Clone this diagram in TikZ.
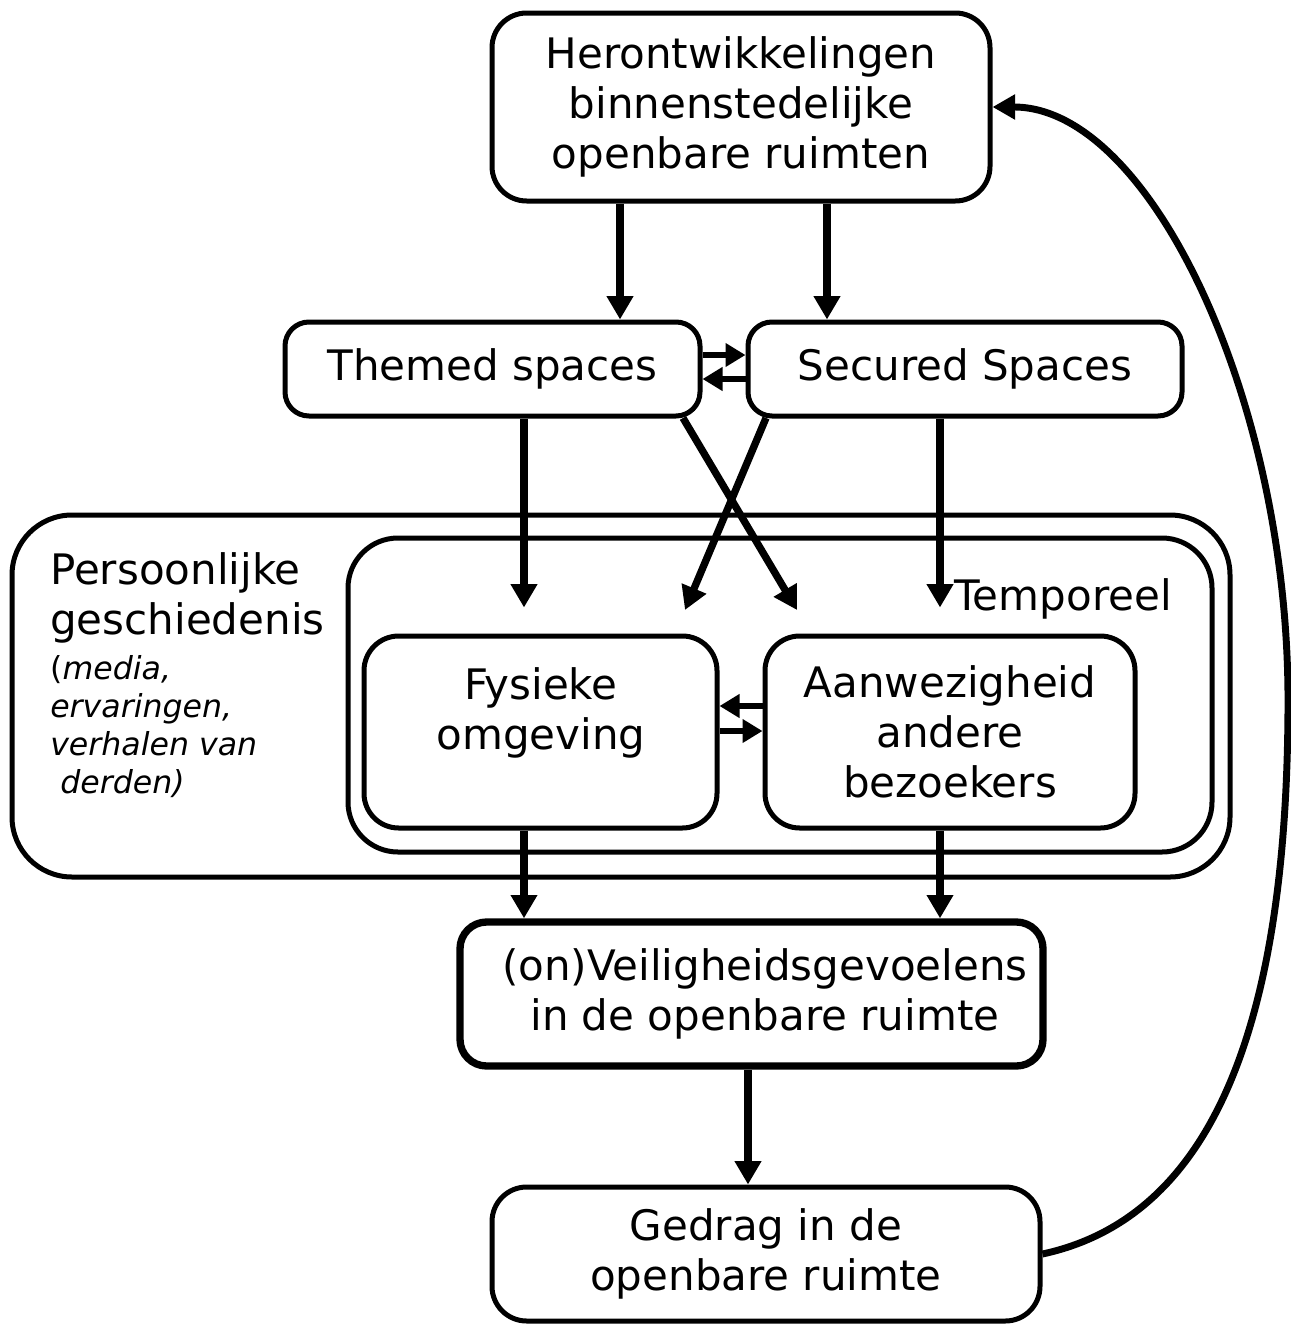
\documentclass[tikz,border=0pt]{standalone}
\usepackage{fontspec}
\setmainfont{DejaVu Sans}
\usetikzlibrary{arrows.meta}
\newcommand\mainfs{\fontsize{31.5}{37.5}\selectfont}
\newcommand\smallfs{\fontsize{23.7}{28.5}\selectfont}
\begin{document}
\begin{tikzpicture}[x=0.75pt,y=-0.75pt,
  box/.style={draw, line width=3.75pt, rounded corners=26pt, align=center, font=\mainfs, inner sep=0pt},
  arr/.style={line width=5.5pt, -{Triangle[width=19pt,length=17.5pt]}},
  sarr/.style={line width=4.5pt, -{Triangle[width=17pt,length=15pt]}},
  plain/.style={font=\mainfs, align=center, inner sep=0pt}]
\useasboundingbox (0,0) rectangle (1291,1328);

% containers
\node[box, rounded corners=45pt, minimum width=913.5pt, minimum height=271.5pt] (pers) at (621,696) {};
\node[box, rounded corners=37.5pt, minimum width=648pt, minimum height=235.5pt] (temp) at (780,695) {};

% boxes
\node[box, minimum width=373.5pt, minimum height=141pt] (top) at (741,107)
  {Herontwikkelingen\\binnenstedelijke\\openbare ruimten};
\node[box, rounded corners=18pt, minimum width=311.25pt, minimum height=70.5pt] (them) at (492.5,369) {Themed spaces};
\node[box, rounded corners=18pt, minimum width=325.5pt, minimum height=70.5pt] (sec) at (965,369) {Secured Spaces};
\node[box, minimum width=264.75pt, minimum height=144pt] (fys) at (540.5,732) {};
\node[plain] (fyst) at (541,713) {Fysieke\\omgeving};
\node[box, minimum width=277.5pt, minimum height=144pt] (aanw) at (950,732) {Aanwezigheid\\andere\\bezoekers};
\node[box, line width=5.5pt, rounded corners=20pt, minimum width=437.25pt, minimum height=108pt] (veil) at (751.5,994)
  {\hspace*{20pt}(on)Veiligheidsgevoelens\\\hspace*{20pt}in de openbare ruimte};
\node[box, minimum width=411pt, minimum height=100.5pt] (ged) at (766,1254) {Gedrag in de\\openbare ruimte};

% labels
\node[plain, anchor=base] (templ) at (1063,610) {Temporeel};
\node[plain, anchor=north west, align=left] (perst) at (50,552) {Persoonlijke\\geschiedenis};
\node[font=\smallfs, anchor=north west, align=left, inner sep=0pt] (perss) at (50,655)
  {(\textit{media,}\\\textit{ervaringen,}\\\textit{verhalen van}\\\textit{\ derden)}};

% x positions
\coordinate (xa) at (620,0);
\coordinate (xb) at (827,0);
\coordinate (xc) at (524,0);
\coordinate (xd) at (940,0);
\coordinate (xe) at (748,0);
\coordinate (ya) at (0,355);
\coordinate (yb) at (0,379);
\coordinate (yc) at (0,706);
\coordinate (yd) at (0,731);
\coordinate (d1s) at (683,418);
\coordinate (d1e) at (797,610);
\coordinate (d2s) at (766,418);
\coordinate (d2e) at (685,610);

\draw[arr] (top.south -| xa) -- (them.north -| xa);
\draw[arr] (top.south -| xb) -- (sec.north -| xb);
\draw[sarr] (them.east |- ya) -- (sec.west |- ya);
\draw[sarr] (sec.west |- yb) -- (them.east |- yb);
\draw[arr, shorten >=19.5pt] (them.south -| xc) -- (fys.north -| xc);
\draw[arr, shorten >=19.5pt] (sec.south -| xd) -- (aanw.north -| xd);
\draw[arr] (d1s) -- (d1e);
\draw[arr] (d2s) -- (d2e);
\draw[sarr] (aanw.west |- yc) -- (fys.east |- yc);
\draw[sarr] (fys.east |- yd) -- (aanw.west |- yd);
\draw[arr] (fys.south -| xc) -- (veil.north -| xc);
\draw[arr] (aanw.south -| xd) -- (veil.north -| xd);
\draw[arr] (veil.south -| xe) -- (ged.north -| xe);
\draw[line width=5.2pt, -{Triangle[width=18pt,length=17pt]}]
  (ged.east) .. controls (1200,1220) and (1288,1050) .. (1288,700)
  .. controls (1288,400) and (1150,107) .. (top.east |- 0,107);
\end{tikzpicture}
\end{document}
